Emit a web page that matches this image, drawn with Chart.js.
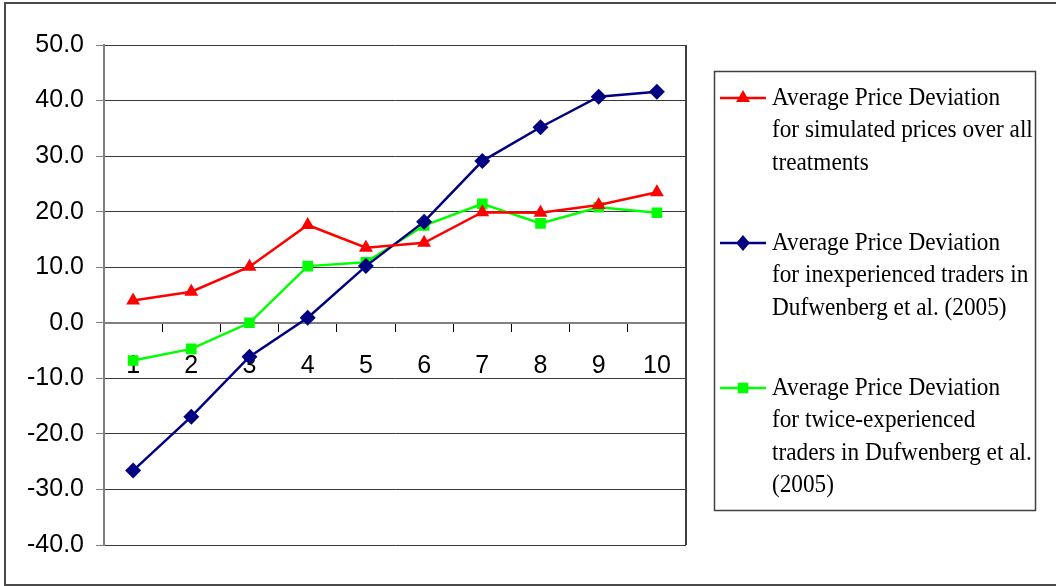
<!DOCTYPE html>
<html>
<head>
<meta charset="utf-8">
<script src="https://cdn.jsdelivr.net/npm/chart.js@4/dist/chart.umd.min.js"></script>
<style>
  html, body { margin: 0; padding: 0; background: #ffffff; }
  #wrap { width: 1056px; height: 586px; position: relative; }
  canvas { display: block; }
</style>
</head>
<body>
<div id="wrap"><canvas id="chart" width="1056" height="586"></canvas></div>
<script>
// Periods (x categories)
const categories = ['1', '2', '3', '4', '5', '6', '7', '8', '9', '10'];

// Average price deviation per period
const simulatedDeviation = [4.0, 5.6, 10.1, 17.6, 13.5, 14.4, 19.9, 19.8, 21.2, 23.5];
const inexperiencedDeviation = [-26.6, -16.9, -6.1, 0.9, 10.2, 18.2, 29.1, 35.2, 40.7, 41.6];
const twiceExperiencedDeviation = [-6.8, -4.7, 0.0, 10.2, 10.9, 17.5, 21.4, 17.9, 20.8, 19.8];

// Legend text, one entry per line
const simulatedLabel = ['Average Price Deviation', 'for simulated prices over all', 'treatments'];
const inexperiencedLabel = ['Average Price Deviation', 'for inexperienced traders in', 'Dufwenberg et al. (2005)'];
const twiceExperiencedLabel = ['Average Price Deviation', 'for twice-experienced', 'traders in Dufwenberg et al.', '(2005)'];

// Value axis range
const yMin = -40;
const yMax = 50;
const yStep = 10;

function drawMarker(ctx, style, x, y, r, color) {
  ctx.save();
  ctx.fillStyle = color;
  ctx.beginPath();
  if (style === 'triangle') {
    ctx.moveTo(x, y - r);
    ctx.lineTo(x + r * 0.866, y + r * 0.5);
    ctx.lineTo(x - r * 0.866, y + r * 0.5);
  } else if (style === 'rectRot') {
    ctx.moveTo(x, y - r);
    ctx.lineTo(x + r * 0.85, y);
    ctx.lineTo(x, y + r);
    ctx.lineTo(x - r * 0.85, y);
  } else {
    const h = r * Math.SQRT1_2;
    ctx.rect(x - h, y - h, 2 * h, 2 * h);
  }
  ctx.closePath();
  ctx.fill();
  ctx.restore();
}

// Frame, plot border and the boxed multi-line legend
const decorations = {
  id: 'decorations',
  afterDraw(chart) {
    const ctx = chart.ctx;
    const a = chart.chartArea;
    ctx.save();
    // outer frame
    ctx.strokeStyle = '#4a4a4a';
    ctx.lineWidth = 2;
    ctx.strokeRect(5, 3, 1060, 582);
    // right edge of plot area
    ctx.strokeStyle = '#404040';
    ctx.lineWidth = 2;
    ctx.beginPath();
    ctx.moveTo(a.right, a.top);
    ctx.lineTo(a.right, a.bottom);
    ctx.stroke();

    // legend box
    ctx.strokeStyle = '#404040';
    ctx.lineWidth = 1.5;
    ctx.strokeRect(714.5, 71.5, 321, 439);

    const lineH = 32.5;
    const gap = 47.5;
    const textX = 772;
    let y = 98;
    chart.data.datasets.forEach(ds => {
      ctx.strokeStyle = ds.borderColor;
      ctx.lineWidth = ds.borderWidth;
      ctx.beginPath();
      ctx.moveTo(720, y);
      ctx.lineTo(766, y);
      ctx.stroke();
      drawMarker(ctx, ds.pointStyle, 743, y, ds.pointRadius, ds.pointBackgroundColor);
      // slightly condensed serif text
      ctx.save();
      ctx.font = '25px "Liberation Serif", "Times New Roman", serif';
      ctx.textBaseline = 'middle';
      ctx.textAlign = 'left';
      ctx.fillStyle = '#000000';
      ctx.translate(textX, 0);
      ctx.scale(0.93, 1);
      ds.label.forEach((t, i) => ctx.fillText(t, 0, y + i * lineH));
      ctx.restore();
      y += ds.label.length * lineH + gap;
    });
    ctx.restore();
  }
};

const chart = new Chart(document.getElementById('chart'), {
  type: 'line',
  data: {
    labels: categories,
    datasets: [
      {
        label: simulatedLabel,
        data: simulatedDeviation,
        borderColor: '#ff0000',
        backgroundColor: '#ff0000',
        pointBackgroundColor: '#ff0000',
        pointBorderWidth: 0,
        borderWidth: 2.5,
        pointStyle: 'triangle',
        pointRadius: 8,
        tension: 0
      },
      {
        label: inexperiencedLabel,
        data: inexperiencedDeviation,
        borderColor: '#000080',
        backgroundColor: '#000080',
        pointBackgroundColor: '#000080',
        pointBorderWidth: 0,
        borderWidth: 2.5,
        pointStyle: 'rectRot',
        pointRadius: 8,
        tension: 0
      },
      {
        label: twiceExperiencedLabel,
        data: twiceExperiencedDeviation,
        borderColor: '#00ff00',
        backgroundColor: '#00ff00',
        pointBackgroundColor: '#00ff00',
        pointBorderWidth: 0,
        borderWidth: 2.5,
        pointStyle: 'rect',
        pointRadius: 7.5,
        tension: 0
      }
    ]
  },
  options: {
    responsive: false,
    animation: false,
    devicePixelRatio: 1,
    layout: { padding: { top: 45, bottom: 41, left: 0, right: 370 } },
    plugins: {
      legend: { display: false },
      tooltip: { enabled: false }
    },
    scales: {
      x: {
        type: 'category',
        offset: true,
        position: { y: 0 },
        grid: {
          offset: true,
          drawOnChartArea: false,
          drawTicks: true,
          tickLength: 8,
          tickColor: '#000000',
          tickWidth: 1
        },
        border: { color: '#808080', width: 2 },
        ticks: {
          color: '#000000',
          padding: 20,
          maxRotation: 0,
          autoSkip: false,
          font: { family: '"Liberation Sans", Arial, sans-serif', size: 25 }
        }
      },
      y: {
        min: yMin,
        max: yMax,
        afterFit(scale) { scale.width = 104; },
        grid: {
          color: '#3a3a3a',
          lineWidth: 1,
          tickLength: 8,
          tickColor: '#808080'
        },
        border: { color: '#808080', width: 2 },
        ticks: {
          stepSize: yStep,
          color: '#000000',
          padding: 12,
          callback: v => Number(v).toFixed(1),
          font: { family: '"Liberation Sans", Arial, sans-serif', size: 25 }
        }
      }
    }
  },
  plugins: [decorations]
});
</script>
</body>
</html>
